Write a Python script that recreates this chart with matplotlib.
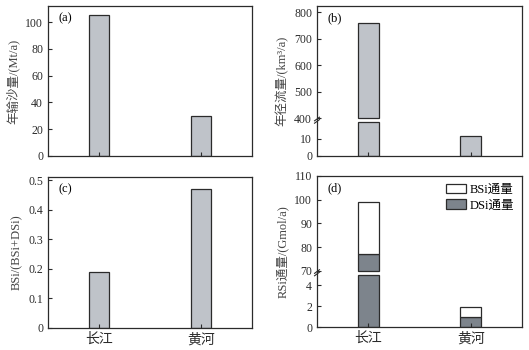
import matplotlib
matplotlib.use("Agg")
import matplotlib.pyplot as plt
import numpy as np
from matplotlib.patches import Patch

plt.rcParams['font.family'] = ['Liberation Serif', 'Noto Sans CJK SC']
plt.rcParams['axes.unicode_minus'] = False

# ---- data ----
rivers = ['长江', '黄河']
sediment = [105, 30]            # 年输沙量 Mt/a
runoff = [760, 12]              # 年径流量 km3/a
bsi_ratio = [0.19, 0.47]        # BSi/(BSi+DSi)
dsi_flux = [77, 1.0]            # DSi通量 Gmol/a
bsi_flux = [22, 0.9]            # BSi通量 Gmol/a

light = '#bfc3c9'
dark = '#7d848c'
edge = '#2b2b2b'
label_col = '#444444'
bw = 0.2
x = np.arange(len(rivers))


def make_scale(lo, hi, s_lo, gap, s_hi):
    """piecewise linear broken scale"""
    def fwd(y):
        y = np.asarray(y, dtype=float)
        return np.where(y <= lo, y * s_lo,
                        np.where(y < hi, lo * s_lo + (y - lo) / (hi - lo) * gap,
                                 lo * s_lo + gap + (y - hi) * s_hi))
    def inv(t):
        t = np.asarray(t, dtype=float)
        a = lo * s_lo
        b = a + gap
        return np.where(t <= a, t / s_lo,
                        np.where(t < b, lo + (t - a) / gap * (hi - lo),
                                 hi + (t - b) / s_hi))
    return fwd, inv


def broken_bar(ax, xi, bottom, height, lo, hi, **kw):
    top = bottom + height
    if bottom < lo:
        ax.bar(xi, min(top, lo) - bottom, bottom=bottom, **kw)
    if top > hi:
        b = max(bottom, hi)
        ax.bar(xi, top - b, bottom=b, **kw)


def break_marks(ax, lo, hi):
    t_lo = ax.transAxes.inverted().transform(ax.transData.transform((0, lo)))[1]
    t_hi = ax.transAxes.inverted().transform(ax.transData.transform((0, hi)))[1]
    ym = (t_lo + t_hi) / 2
    d = 0.012
    for off in (-0.008, 0.008):
        ax.plot([-d, d], [ym + off - d, ym + off + d], transform=ax.transAxes,
                color=edge, lw=0.8, clip_on=False)


fig = plt.figure(figsize=(5.29, 3.50), dpi=100)
W, H = 529, 350


def add_ax(l, r, t, b):
    return fig.add_axes([l / W, 1 - b / H, (r - l) / W, (b - t) / H])


axa = add_ax(48, 252, 6, 156)
axb = add_ax(317, 522, 6, 156)
axc = add_ax(48, 252, 177, 328)
axd = add_ax(317, 522, 176, 327)

for ax in (axa, axb, axc, axd):
    ax.set_xlim(-0.5, 1.5)
    ax.set_xticks(x)
    ax.tick_params(direction='in', length=3, width=0.8, labelsize=8.5, colors=edge)
    ax.tick_params(axis='x', length=3, labelsize=10)
    for s in ax.spines.values():
        s.set_linewidth(0.9)
        s.set_color(edge)

barkw = dict(width=bw, color=light, edgecolor=edge, linewidth=0.9)

# (a)
axa.bar(x, sediment, **barkw)
axa.set_ylim(0, 112)
axa.set_yticks([0, 20, 40, 60, 80, 100])
axa.set_xticklabels([])
axa.set_ylabel('年输沙量/(Mt/a)', fontsize=9, labelpad=4, color=label_col)
axa.text(0.05, 0.92, '(a)', transform=axa.transAxes, fontsize=9, va='center')

# (b) broken axis
lo_b, hi_b = 20, 400
fb, ib = make_scale(lo_b, hi_b, 1.7, 3.5, 0.2655)
axb.set_yscale('function', functions=(fb, ib))
for xi, v in zip(x, runoff):
    broken_bar(axb, xi, 0, v, lo_b, hi_b, **barkw)
axb.set_ylim(0, 823)
axb.set_yticks([0, 10, 400, 500, 600, 700, 800])
axb.set_yticklabels(['0', '10', '400', '500', '600', '700', '800'])
axb.yaxis.set_minor_locator(matplotlib.ticker.NullLocator())
axb.set_xticklabels([])
axb.set_ylabel('年径流量/(km³/a)', fontsize=9, labelpad=4, color=label_col)
axb.text(0.05, 0.92, '(b)', transform=axb.transAxes, fontsize=9, va='center')
break_marks(axb, lo_b, hi_b)

# (c)
axc.bar(x, bsi_ratio, **barkw)
axc.set_ylim(0, 0.511)
axc.set_yticks([0, 0.1, 0.2, 0.3, 0.4, 0.5])
axc.set_yticklabels(['0', '0.1', '0.2', '0.3', '0.4', '0.5'])
axc.set_xticklabels(rivers)
axc.set_ylabel('BSi/(BSi+DSi)', fontsize=9, labelpad=4, color=label_col)
axc.text(0.05, 0.92, '(c)', transform=axc.transAxes, fontsize=9, va='center')

# (d) broken axis, stacked
lo_d, hi_d = 5, 70
fd, idd = make_scale(lo_d, hi_d, 10.5, 4.0, 2.38)
axd.set_yscale('function', functions=(fd, idd))
for xi, dv, bv in zip(x, dsi_flux, bsi_flux):
    broken_bar(axd, xi, 0, dv, lo_d, hi_d, width=bw, color=dark, edgecolor=edge, linewidth=0.9)
    broken_bar(axd, xi, dv, bv, lo_d, hi_d, width=bw, color='white', edgecolor=edge, linewidth=0.9)
axd.set_ylim(0, 110)
axd.set_yticks([0, 2, 4, 70, 80, 90, 100, 110])
axd.set_yticklabels(['0', '2', '4', '70', '80', '90', '100', '110'])
axd.yaxis.set_minor_locator(matplotlib.ticker.NullLocator())
axd.set_xticklabels(rivers)
axd.set_ylabel('RSi通量/(Gmol/a)', fontsize=9, labelpad=4, color=label_col)
axd.text(0.05, 0.92, '(d)', transform=axd.transAxes, fontsize=9, va='center')
break_marks(axd, lo_d, hi_d)
handles = [Patch(facecolor='white', edgecolor=edge, linewidth=0.9, label='BSi通量'),
           Patch(facecolor=dark, edgecolor=edge, linewidth=0.9, label='DSi通量')]
axd.legend(handles=handles, loc='upper right', frameon=False, fontsize=9,
           handlelength=1.6, handleheight=0.8, handletextpad=0.3,
           borderaxespad=0.2, labelspacing=0.3)

fig.savefig('out.png', dpi=100)
